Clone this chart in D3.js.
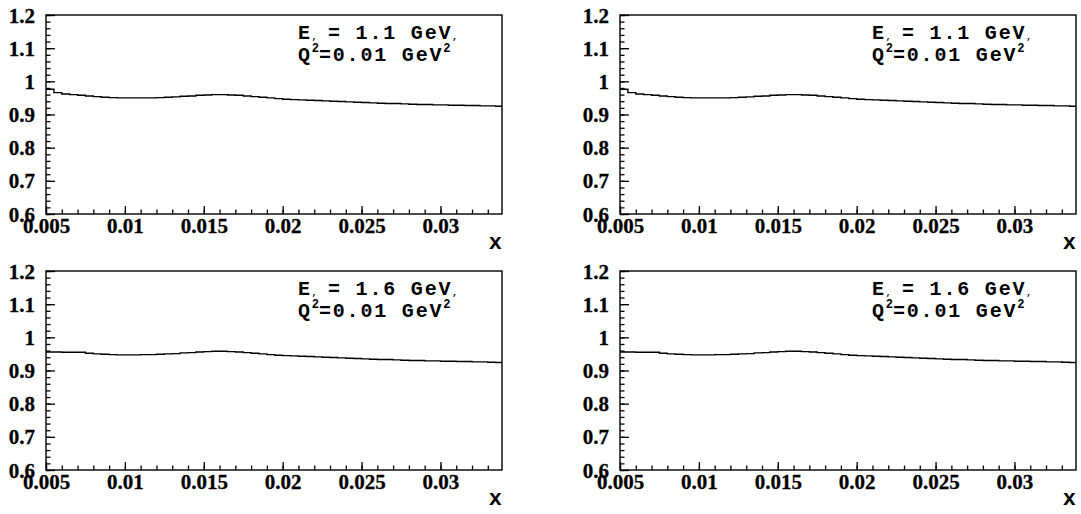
<!DOCTYPE html>
<html>
<head>
<meta charset="utf-8">
<script src="https://cdn.jsdelivr.net/npm/d3@7"></script>
<style>
  body { margin: 0; background: #fff; }
  svg { display: block; }
</style>
</head>
<body>
<svg width="1081" height="514"></svg>
<script>
// bin low edges (x), width 0.0005
const binEdges = d3.range(58).map(i => +(0.005 + i * 0.0005).toFixed(4));
const xMax = 0.0339;

// ratio, E = 1.1 GeV
const ratioE11 = [
  0.976, 0.966, 0.962, 0.960, 0.958, 0.956, 0.954, 0.952, 0.951, 0.950,
  0.950, 0.950, 0.950, 0.950, 0.951, 0.952, 0.953, 0.955, 0.956, 0.958,
  0.959, 0.960, 0.960, 0.959, 0.958, 0.956, 0.954, 0.952, 0.950, 0.948,
  0.946, 0.945, 0.944, 0.943, 0.942, 0.941, 0.940, 0.939, 0.938, 0.937,
  0.936, 0.935, 0.934, 0.933, 0.933, 0.932, 0.931, 0.930, 0.930, 0.929,
  0.929, 0.928, 0.928, 0.927, 0.927, 0.926, 0.926, 0.925
];
// E = 1.6 GeV
const ratioE16 = [
  0.956, 0.956, 0.955, 0.955, 0.955, 0.952, 0.950, 0.949, 0.948, 0.947,
  0.947, 0.947, 0.948, 0.948, 0.949, 0.950, 0.951, 0.953, 0.954, 0.956,
  0.957, 0.958, 0.958, 0.957, 0.956, 0.954, 0.952, 0.950, 0.948, 0.946,
  0.945, 0.944, 0.943, 0.942, 0.941, 0.940, 0.939, 0.938, 0.937, 0.936,
  0.935, 0.934, 0.933, 0.933, 0.932, 0.931, 0.930, 0.930, 0.929, 0.929,
  0.928, 0.928, 0.927, 0.927, 0.926, 0.926, 0.925, 0.924
];

const xMajor = [0.005, 0.01, 0.015, 0.02, 0.025, 0.03];
const xMajorLabels = ['0.005', '0.01', '0.015', '0.02', '0.025', '0.03'];
const yMajor = [0.6, 0.7, 0.8, 0.9, 1.0, 1.1, 1.2];
const yMajorLabels = ['0.6', '0.7', '0.8', '0.9', '1', '1.1', '1.2'];

const panels = [
  {left: 46, top: 15, energy: '1.1', values: ratioE11},
  {left: 620, top: 15, energy: '1.1', values: ratioE11},
  {left: 46, top: 271, energy: '1.6', values: ratioE16},
  {left: 620, top: 271, energy: '1.6', values: ratioE16}
];

const serifFont = "'Liberation Serif', 'Times New Roman', serif";
const monoFont = "'Liberation Mono', 'Courier New', monospace";

const svg = d3.select('svg');
const innerWidth = 456;
const innerHeight = 199;

const xScale = d3.scaleLinear().domain([0.005, xMax]).range([0, innerWidth]);
const yScale = d3.scaleLinear().domain([0.6, 1.2]).range([innerHeight, 0]);

const tickText = sel => sel
  .style('font-family', serifFont)
  .style('font-weight', 'bold')
  .style('font-size', '21px')
  .attr('fill', '#000')
  .attr('stroke', '#000').attr('stroke-width', 0.3);

panels.forEach(p => {
  const g = svg.append('g').attr('transform', `translate(${p.left},${p.top})`);

  // frame
  g.append('rect')
    .attr('width', innerWidth).attr('height', innerHeight)
    .attr('fill', 'none').attr('stroke', '#000').attr('stroke-width', 1.4);

  // y minor ticks
  const yMinor = d3.range(0.6, 1.2001, 0.02);
  g.append('g').call(d3.axisLeft(yScale).tickValues(yMinor).tickSize(-4.5).tickFormat(''))
    .call(a => a.select('.domain').remove());
  // y major
  const yAxisG = g.append('g').call(
    d3.axisLeft(yScale).tickValues(yMajor).tickSize(-9).tickPadding(11)
      .tickFormat((d, i) => yMajorLabels[i]));
  yAxisG.select('.domain').remove();
  yAxisG.selectAll('text').call(tickText).attr('dy', '0.34em');

  // x minor ticks
  const xMinor = d3.range(0.005, xMax, 0.001);
  g.append('g').attr('transform', `translate(0,${innerHeight})`)
    .call(d3.axisBottom(xScale).tickValues(xMinor).tickSize(-4.5).tickFormat(''))
    .call(a => a.select('.domain').remove());
  const xAxisG = g.append('g').attr('transform', `translate(0,${innerHeight})`)
    .call(d3.axisBottom(xScale).tickValues(xMajor).tickSize(-8).tickPadding(4)
      .tickFormat((d, i) => xMajorLabels[i]));
  xAxisG.select('.domain').remove();
  xAxisG.selectAll('text').call(tickText);
  g.selectAll('.tick line').attr('stroke', '#000').attr('stroke-width', 1.3);

  // axis title
  g.append('text')
    .style('font-family', monoFont).style('font-weight', 'bold').style('font-size', '22px')
    .attr('x', innerWidth).attr('y', innerHeight + 35)
    .attr('text-anchor', 'end')
    .text('x');

  // histogram step line
  const pts = p.values.map((v, i) => [binEdges[i], v]);
  pts.push([xMax, p.values[p.values.length - 1]]);
  const line = d3.line()
    .x(d => xScale(d[0])).y(d => yScale(d[1]))
    .curve(d3.curveStepAfter);
  g.append('path').datum(pts)
    .attr('d', line).attr('fill', 'none')
    .attr('stroke', '#000').attr('stroke-width', 1.4);

  // label
  const l1 = g.append('text')
    .style('font-family', monoFont).style('font-weight', 'bold').style('font-size', '20px')
    .attr('x', 252).attr('y', 24).attr('letter-spacing', 1.8);
  l1.append('tspan').text('E');
  l1.append('tspan').style('font-size', '9px').attr('letter-spacing', 0).text(',');
  l1.append('tspan').attr('dx', -3).text(' = ' + p.energy + ' GeV');
  l1.append('tspan').style('font-size', '9px').attr('letter-spacing', 0).text(',');

  const l2 = g.append('text')
    .style('font-family', monoFont).style('font-weight', 'bold').style('font-size', '20px')
    .attr('x', 252).attr('y', 46).attr('letter-spacing', 1.8);
  l2.append('tspan').text('Q');
  l2.append('tspan').style('font-size', '12px').attr('letter-spacing', 0).attr('dy', -9).text('2');
  l2.append('tspan').attr('dy', 9).text('=0.01 GeV');
  l2.append('tspan').style('font-size', '12px').attr('dy', -9).text('2');
});
</script>
</body>
</html>
